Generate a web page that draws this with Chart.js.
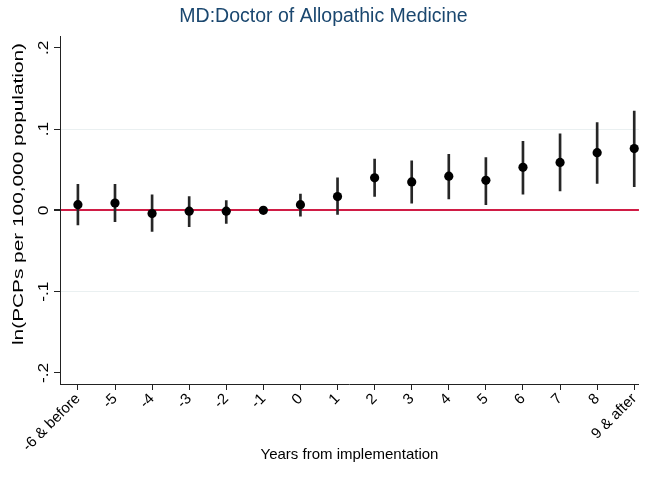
<!DOCTYPE html>
<html>
<head>
<meta charset="utf-8">
<script src="https://cdn.jsdelivr.net/npm/chart.js@4.4.1/dist/chart.umd.min.js"></script>
<style>
	html, body { margin: 0; padding: 0; background: #fff; }
	#wrap { width: 647px; height: 495px; }
</style>
</head>
<body>
<div id="wrap"><canvas id="chart" width="647" height="495"></canvas></div>
<script>
const categories = ['-6 & before', '-5', '-4', '-3', '-2', '-1', '0', '1', '2', '3', '4', '5', '6', '7', '8', '9 & after'];
const estimates = [0.007, 0.009, -0.004, -0.001, -0.001, 0, 0.007, 0.017, 0.040, 0.035, 0.042, 0.037, 0.053, 0.059, 0.071, 0.076];
const lowerCI = [-0.018, -0.014, -0.026, -0.020, -0.016, 0, -0.007, -0.005, 0.017, 0.009, 0.014, 0.007, 0.020, 0.024, 0.033, 0.029];
const upperCI = [0.032, 0.032, 0.019, 0.017, 0.012, 0, 0.020, 0.040, 0.063, 0.061, 0.069, 0.065, 0.085, 0.094, 0.108, 0.122];
const yTicks = [-0.2, -0.1, 0, 0.1, 0.2];
const yTickLabels = ['-.2', '-.1', '0', '.1', '.2'];

const FONT = "'Liberation Sans', Arial, sans-serif";

// vertical y tick labels and y title, Stata style
const yLabels = {
	id: 'yLabels',
	afterDraw(chart) {
		const ctx = chart.ctx;
		const y = chart.scales.y;
		ctx.save();
		ctx.fillStyle = '#000';
		ctx.textAlign = 'center';
		ctx.textBaseline = 'middle';
		ctx.font = '15px ' + FONT;
		yTicks.forEach((v, i) => {
			const py = y.getPixelForValue(v);
			ctx.save();
			ctx.translate(y.right - 16, py);
			ctx.rotate(-Math.PI / 2);
			ctx.scale(1.15, 1);
			ctx.fillText(yTickLabels[i], 0, 0);
			ctx.restore();
		});
		// title is stretched along its length like the exported Stata graph
		const title = 'ln(PCPs per 100,000 population)';
		ctx.font = '15px ' + FONT;
		const w = ctx.measureText(title).width;
		ctx.translate(19, 194);
		ctx.rotate(-Math.PI / 2);
		ctx.scale(302 / w, 1);
		ctx.fillText(title, 0, 0);
		ctx.restore();
	}
};

const config = {
	type: 'bar',
	data: {
		datasets: [
			{
				type: 'line',
				data: estimates.map((v, i) => ({ x: i, y: v })),
				showLine: false,
				pointRadius: 4.6,
				pointBackgroundColor: '#000',
				pointBorderColor: '#000',
				pointBorderWidth: 0,
				order: 0,
			},
			{
				type: 'bar',
				data: lowerCI.map((v, i) => ({ x: i, y: [v, upperCI[i]] })),
				backgroundColor: '#262626',
				barThickness: 2,
				order: 1,
			},
		],
	},
	options: {
		responsive: false,
		animation: false,
		layout: { padding: 0 },
		plugins: {
			legend: { display: false },
			tooltip: { enabled: false },
			title: {
				display: true,
				text: 'MD:Doctor of Allopathic Medicine',
				color: '#1a476f',
				font: { family: FONT, size: 19.5, weight: 'normal' },
				padding: { top: 5, bottom: 8 },
			},
		},
		scales: {
			x: {
				type: 'linear',
				offset: false,
				min: -0.483,
				max: 15.127,
				afterBuildTicks: (s) => { s.ticks = categories.map((c, i) => ({ value: i })); },
				ticks: {
					callback: (v) => categories[v],
					autoSkip: false,
					minRotation: 45,
					maxRotation: 45,
					color: '#000',
					font: { family: FONT, size: 15 },
					padding: 0,
				},
				grid: { offset: false, drawOnChartArea: false, tickLength: 6, tickColor: '#222' },
				border: { color: '#222', width: 1 },
				title: {
					display: true,
					text: 'Years from implementation',
					color: '#000',
					font: { family: FONT, size: 15 },
					padding: { top: 4, bottom: 31 },
				},
				afterFit: (s) => { s.height = 111; },
			},
			y: {
				min: -0.2136,
				max: 0.214,
				afterBuildTicks: (s) => { s.ticks = yTicks.map((v) => ({ value: v })); },
				ticks: { display: false },
				grid: {
					color: (c) => {
						const v = c.tick ? c.tick.value : null;
						if (v === 0) return '#d01c45';
						if (Math.abs(Math.abs(v) - 0.1) < 1e-9) return '#eaf0f1';
						return 'rgba(0,0,0,0)';
					},
					lineWidth: (c) => (c.tick && c.tick.value === 0 ? 2 : 1),
					tickColor: '#222',
					tickLength: 6,
				},
				border: { color: '#222', width: 1 },
				afterFit: (s) => { s.width = 60; },
			},
		},
	},
	plugins: [yLabels],
};

function renderChart() {
	const chartCanvas = document.getElementById('chart');
	new Chart(chartCanvas, config);
}

renderChart();
</script>
</body>
</html>
